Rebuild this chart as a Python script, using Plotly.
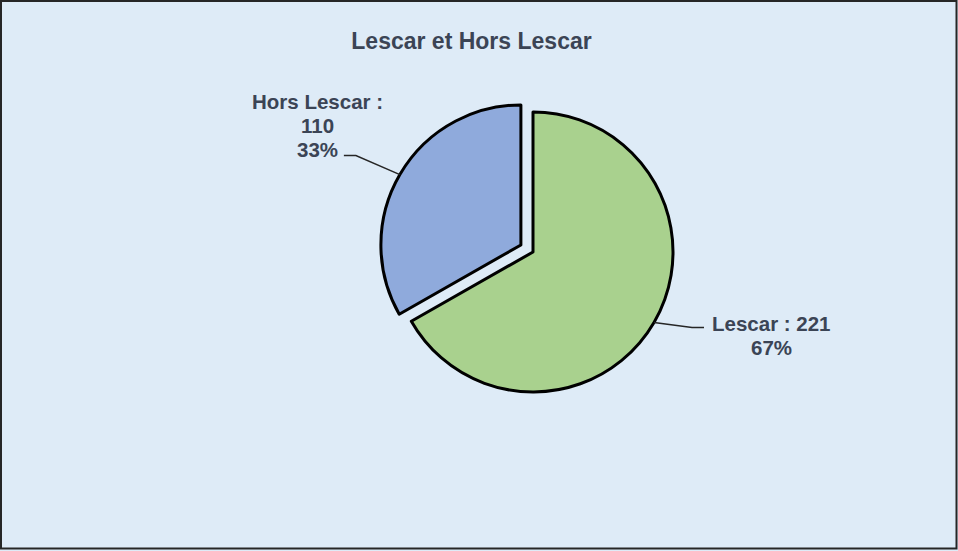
import math
import plotly.graph_objects as go

# ---- data ----
categories = ["Lescar", "Hors Lescar"]
values = [221, 110]
pulls = [0.0, 0.1]
colors = ["#A9D18E", "#8FAADC"]
title_text = "Lescar et Hors Lescar"

# ---- layout constants (pixels) ----
W, H = 958, 551
CX, CY = 533, 252          # pie centre (px, from top-left)
R = 140                    # pie radius (px)
LINE_H = 24                # label line spacing (px)
TEXT_COLOR = "#3B4455"
BG = "#DEEBF7"
FONT = "Liberation Sans, Arial, sans-serif"

max_pull = max(pulls)
half = R * (1 + max_pull)
dom_x = [(CX - half) / W, (CX + half) / W]
dom_y = [1 - (CY + half) / H, 1 - (CY - half) / H]

fig = go.Figure(go.Pie(
    labels=categories,
    values=values,
    pull=pulls,
    sort=False,
    direction="clockwise",
    rotation=0,
    textinfo="none",
    hoverinfo="label+value+percent",
    marker=dict(colors=colors, line=dict(color="#000000", width=3)),
    domain=dict(x=dom_x, y=dom_y),
    showlegend=False,
))

def px(x):
    return x / W

def py(y):
    return 1 - y / H

# leader line & label styling per slice
label_style = {
    "Hors Lescar": dict(elbow=(-44, -19), stub=-12, text_off=(-26, -30),
                        lines=["{lab} :", "{val}", "{pct}%"]),
    "Lescar": dict(elbow=(38, 5), stub=12, text_off=(67, 8),
                   lines=["{lab} : {val}", "{pct}%"]),
}

total = sum(values)
cum = 0.0
shapes = []
annotations = []
for lab, val, pull in zip(categories, values, pulls):
    frac = val / total
    mid = (cum + frac / 2) * 2 * math.pi
    cum += frac
    dx, dy = math.sin(mid), -math.cos(mid)
    rr = R * (1 + pull)
    ex, ey = CX + dx * rr, CY + dy * rr
    st = label_style[lab]
    bx, by = ex + st["elbow"][0], ey + st["elbow"][1]
    tx, ty = bx + st["stub"], by
    shapes.append(dict(
        type="path", xref="paper", yref="paper",
        path=f"M {px(ex)},{py(ey)} L {px(bx)},{py(by)} L {px(tx)},{py(ty)}",
        line=dict(color="#262626", width=1.5),
    ))
    pct = round(frac * 100)
    cx_t, cy_t = tx + st["text_off"][0], ty + st["text_off"][1]
    n = len(st["lines"])
    for i, ln in enumerate(st["lines"]):
        annotations.append(dict(
            x=px(cx_t), y=py(cy_t + (i - (n - 1) / 2) * LINE_H),
            xref="paper", yref="paper", xanchor="center", yanchor="middle",
            text="<b>" + ln.format(lab=lab, val=val, pct=pct) + "</b>",
            showarrow=False, align="center",
            font=dict(family=FONT, size=20.5, color=TEXT_COLOR),
        ))

# outer border
shapes.append(dict(
    type="rect", xref="paper", yref="paper",
    x0=px(1), x1=px(956.5), y0=py(548.5), y1=py(1),
    line=dict(color="#262626", width=2), fillcolor="rgba(0,0,0,0)",
))

fig.update_layout(
    width=W, height=H,
    margin=dict(l=0, r=0, t=0, b=0),
    paper_bgcolor=BG, plot_bgcolor=BG,
    title=dict(
        text=f"<b>{title_text}</b>", x=471.5 / W, y=py(41), xanchor="center", yanchor="middle",
        font=dict(family=FONT, size=23, color=TEXT_COLOR),
    ),
    shapes=shapes,
    annotations=annotations,
)

fig.write_html(
    "out.html",
    config={"displayModeBar": False},
    post_script="document.body.style.margin='0';document.body.style.overflow='hidden';",
)
